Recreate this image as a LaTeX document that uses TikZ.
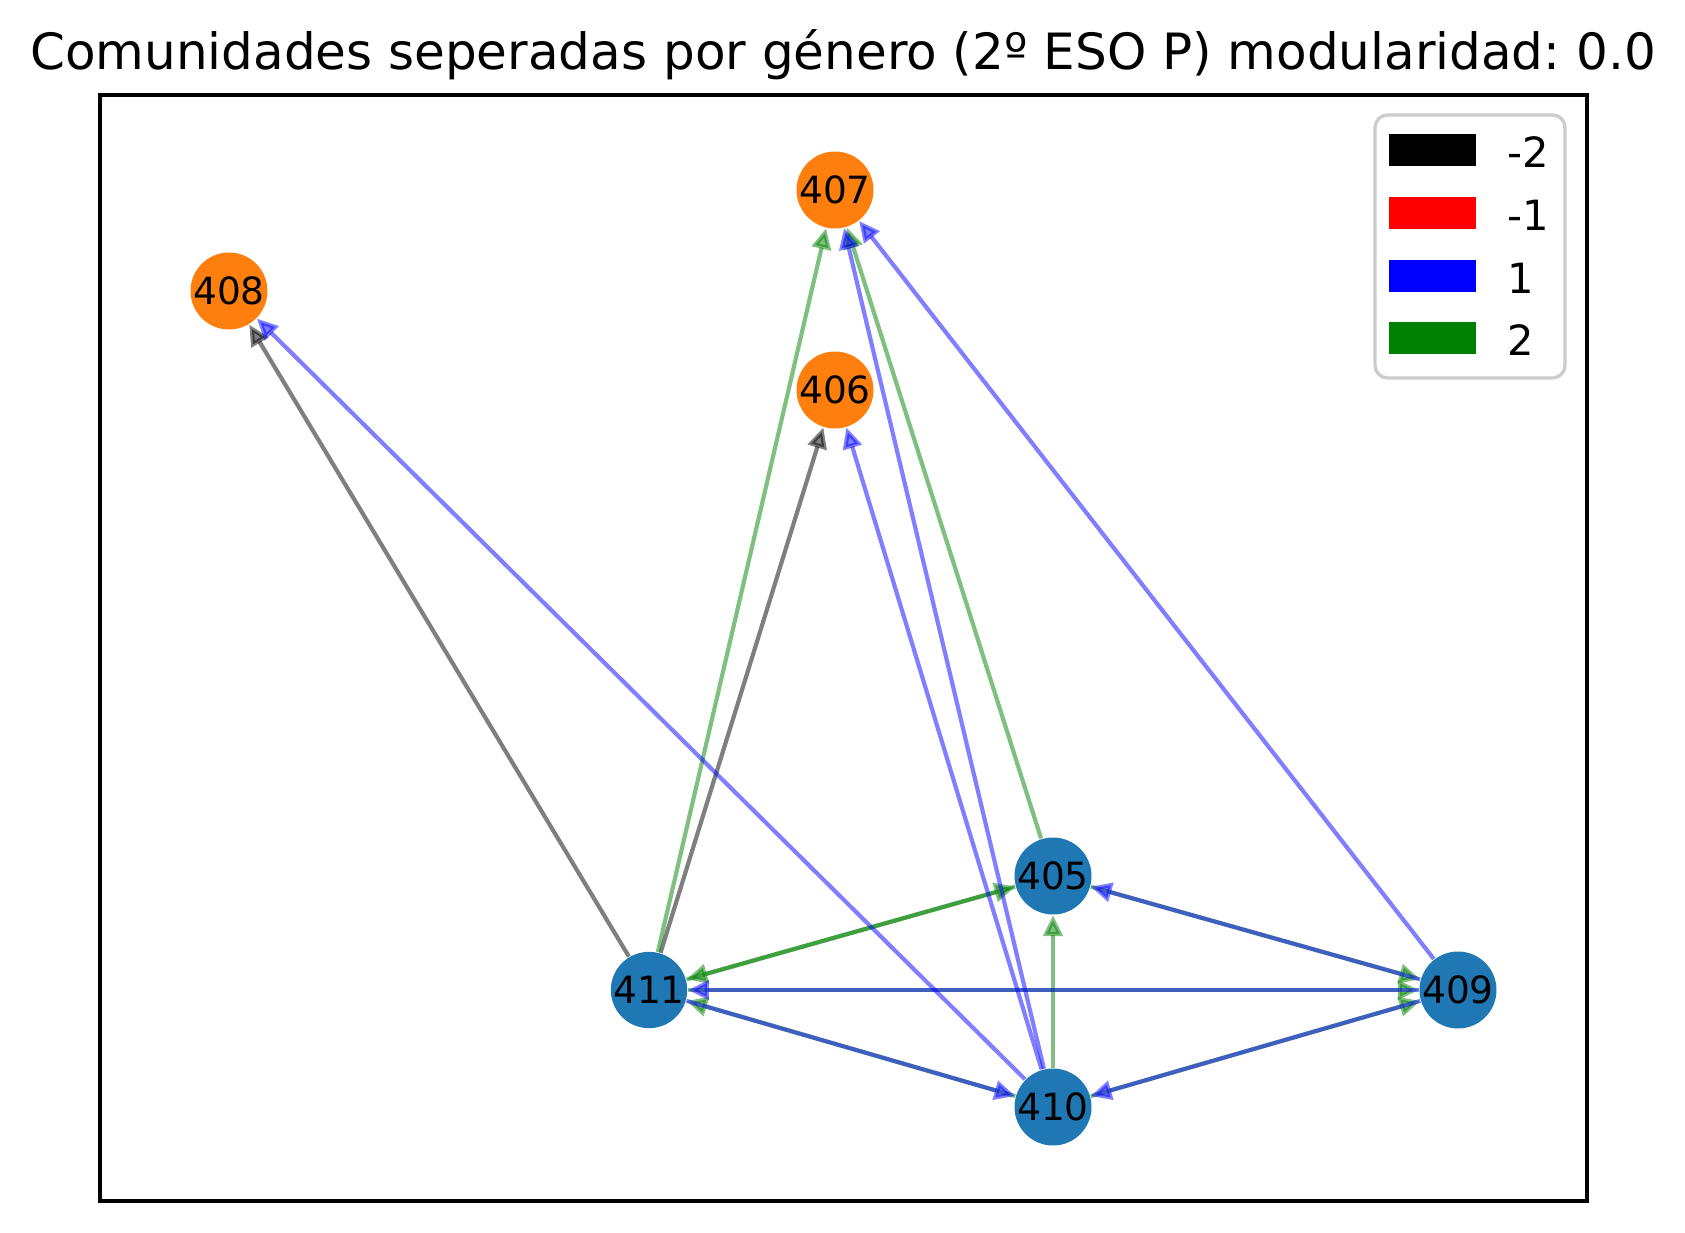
\documentclass[tikz,border=0pt]{standalone}
\usepackage{fontspec}
\setmainfont{DejaVu Sans}
\usepackage{tikz}
\usetikzlibrary{arrows.meta}
\frenchspacing

\definecolor{masc}{HTML}{1F77B4}
\definecolor{fem}{HTML}{FF7F0E}
\definecolor{verde}{HTML}{008000}

\begin{document}
\begin{tikzpicture}[x=0.24pt, y=-0.24pt,
    >={Triangle[length=5pt, width=4.6pt]},
    alumno/.style={circle, inner sep=0pt, minimum size=18pt, font=\fontsize{9}{10}\selectfont},
    wneg2/.style={draw=black, opacity=0.5, line width=1pt},
    wpos1/.style={draw=blue, opacity=0.5, line width=1pt},
    wpos2/.style={draw=verde, opacity=0.5, line width=1pt}]
        \useasboundingbox (0,0) rectangle (1685,1233);

        % titulo y marco
        \node[anchor=base, font=\fontsize{12}{14}\selectfont] (titulo) at (843,70) {Comunidades seperadas por género (2º ESO P) modularidad: 0.0};
        \draw[line width=0.8pt] (100,95) rectangle (1587,1201);

        % alumnos
        \node[alumno, fill=fem] (a407) at (835,190) {407};
        \node[alumno, fill=fem] (a408) at (229,291) {408};
        \node[alumno, fill=fem] (a406) at (835,390) {406};
        \node[alumno, fill=masc] (a405) at (1053,876) {405};
        \node[alumno, fill=masc] (a411) at (649,990) {411};
        \node[alumno, fill=masc] (a409) at (1458,990) {409};
        \node[alumno, fill=masc] (a410) at (1053,1107) {410};

        % relaciones -2
        \draw[wneg2, ->] (a411) -- (a408);
        \draw[wneg2, ->] (a411) -- (a406);

        % relaciones 2
        \draw[wpos2, ->] (a411) -- (a407);
        \draw[wpos2, ->] (a405) -- (a407);
        \draw[wpos2, ->] (a411) -- (a405);
        \draw[wpos2, ->] (a405) -- (a411);
        \draw[wpos2, ->] (a410) -- (a405);
        \draw[wpos2, ->] (a411) -- (a409);
        \draw[wpos2, ->] (a405) -- (a409);
        \draw[wpos2, ->] (a410) -- (a409);
        \draw[wpos2, ->] (a410) -- (a411);

        % relaciones 1
        \draw[wpos1, ->] (a410) -- (a408);
        \draw[wpos1, ->] (a410) -- (a406);
        \draw[wpos1, ->] (a410) -- (a407);
        \draw[wpos1, ->] (a409) -- (a407);
        \draw[wpos1, ->] (a411) -- (a410);
        \draw[wpos1, ->] (a409) -- (a411);
        \draw[wpos1, ->] (a409) -- (a405);
        \draw[wpos1, ->] (a409) -- (a410);

        % leyenda
        \draw[draw=black!20, line width=0.8pt, fill=white, rounded corners=3pt] (1375,115) rectangle (1565,378);
        \fill[black] (1389,134) rectangle (1476,166);
        \fill[red] (1389,197) rectangle (1476,229);
        \fill[blue] (1389,260) rectangle (1476,292);
        \fill[verde] (1389,322) rectangle (1476,354);
        \node[anchor=west, inner sep=0pt, font=\fontsize{10}{12}\selectfont] (lneg2) at (1507,152) {-2};
        \node[anchor=west, inner sep=0pt, font=\fontsize{10}{12}\selectfont] (lneg1) at (1507,215) {-1};
        \node[anchor=west, inner sep=0pt, font=\fontsize{10}{12}\selectfont] (lpos1) at (1507,278) {1};
        \node[anchor=west, inner sep=0pt, font=\fontsize{10}{12}\selectfont] (lpos2) at (1507,340) {2};
\end{tikzpicture}
\end{document}
